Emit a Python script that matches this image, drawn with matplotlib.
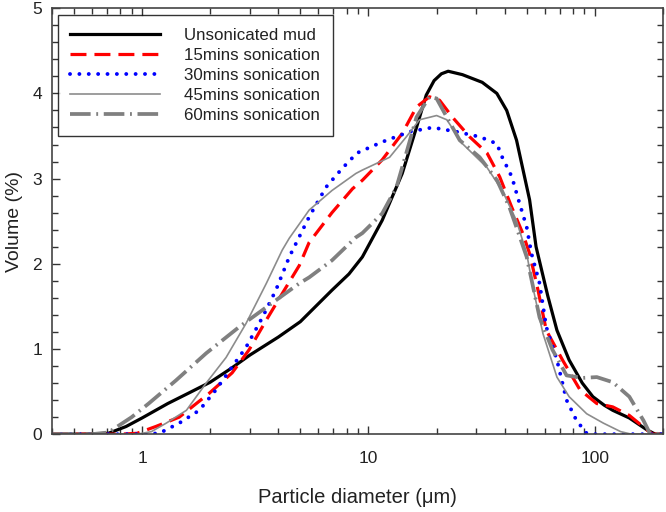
import matplotlib
matplotlib.use("Agg")
import matplotlib.pyplot as plt
from matplotlib.ticker import LogLocator, FixedLocator, MultipleLocator, NullFormatter, FuncFormatter

plt.rcParams['font.family'] = ['Liberation Sans', 'DejaVu Sans']

# ---- data (particle diameter in um, volume in %) ----
x_unson = [0.4, 0.55, 0.71, 0.85, 1.0, 1.3, 1.6, 2.0, 2.5, 3.0, 4.0, 5.0, 6.9, 8.2, 9.4, 11.5, 14.1, 16.3, 18.0, 19.5,
           21.0, 22.5, 26.0, 31.8, 36.9, 40.8, 45.1, 51.5, 55.0, 62.0, 68.0, 77.0, 88.0, 98.0, 110.0, 120.0, 142.0, 170.0, 185.0, 200.0]
y_unson = [0.0, 0.0, 0.01, 0.09, 0.19, 0.36, 0.48, 0.61, 0.78, 0.93, 1.14, 1.32, 1.69, 1.88, 2.08, 2.51, 3.06, 3.6, 3.98, 4.15,
           4.23, 4.26, 4.22, 4.13, 4.0, 3.8, 3.45, 2.75, 2.2, 1.62, 1.22, 0.87, 0.6, 0.44, 0.34, 0.28, 0.19, 0.05, 0.0, 0.0]

x_15 = [0.4, 0.8, 0.95, 1.15, 1.46, 1.98, 2.5, 2.97, 3.54, 4.16, 4.95, 5.47, 6.9, 8.5, 9.4, 11.5, 14.1, 16.3, 18.6, 20.6,
        23.5, 28.0, 33.4, 38.0, 43.0, 48.0, 51.5, 56.0, 61.0, 72.0, 86.0, 102.0, 120.0, 142.0, 170.0, 180.0, 200.0]
y_15 = [0.0, 0.0, 0.01, 0.09, 0.2, 0.48, 0.72, 0.99, 1.34, 1.65, 1.98, 2.25, 2.6, 2.88, 2.98, 3.22, 3.53, 3.84, 3.96, 3.92,
        3.72, 3.49, 3.3, 3.02, 2.66, 2.36, 2.12, 1.7, 1.22, 0.87, 0.52, 0.36, 0.32, 0.22, 0.05, 0.0, 0.0]

x_30 = [0.4, 1.0, 1.19, 1.46, 1.79, 2.12, 2.5, 2.88, 3.4, 3.9, 4.47, 5.47, 6.5, 7.66, 8.9, 11.5, 15.2, 19.2, 24.5, 31.0,
        36.9, 39.0, 43.0, 46.0, 50.0, 52.5, 57.0, 61.0, 68.0, 75.0, 83.0, 92.0, 100.0, 200.0]
y_30 = [0.0, 0.0, 0.01, 0.13, 0.28, 0.52, 0.79, 1.02, 1.37, 1.69, 2.08, 2.55, 2.9, 3.12, 3.3, 3.43, 3.55, 3.6, 3.55, 3.49,
        3.41, 3.25, 3.02, 2.75, 2.43, 2.12, 1.77, 1.26, 0.87, 0.4, 0.16, 0.01, 0.0, 0.0]

x_45 = [0.4, 0.95, 1.1, 1.28, 1.57, 1.92, 2.35, 2.88, 3.54, 4.16, 4.47, 5.47, 6.9, 8.8, 9.4, 12.4, 14.7, 16.8, 20.0, 22.2,
        26.0, 33.4, 39.0, 45.0, 50.0, 53.0, 59.0, 68.0, 77.0, 92.0, 109.0, 130.0, 145.0, 200.0]
y_45 = [0.0, 0.0, 0.03, 0.13, 0.28, 0.6, 0.9, 1.3, 1.77, 2.16, 2.3, 2.63, 2.86, 3.06, 3.1, 3.25, 3.49, 3.69, 3.74, 3.69,
        3.41, 3.13, 2.86, 2.51, 2.12, 1.75, 1.18, 0.67, 0.44, 0.24, 0.13, 0.03, 0.0, 0.0]

x_60 = [0.4, 0.6, 0.71, 0.9, 1.07, 1.41, 1.92, 2.69, 3.54, 4.95, 5.47, 6.9, 8.8, 9.4, 11.5, 13.3, 14.7, 16.3, 18.6, 20.0,
        22.2, 25.3, 31.0, 37.0, 42.0, 46.0, 50.0, 57.0, 65.0, 75.0, 88.0, 102.0, 120.0, 142.0, 164.0, 175.0, 200.0]
y_60 = [0.0, 0.0, 0.02, 0.2, 0.36, 0.63, 0.95, 1.26, 1.49, 1.77, 1.84, 2.04, 2.31, 2.36, 2.59, 2.9, 3.3, 3.72, 3.96, 3.94,
        3.72, 3.45, 3.25, 2.98, 2.66, 2.36, 2.08, 1.37, 0.99, 0.69, 0.66, 0.67, 0.61, 0.44, 0.16, 0.01, 0.0]

labels = ["Unsonicated mud", "15mins sonication", "30mins sonication", "45mins sonication", "60mins sonication"]
x_ticks = [1, 10, 100]
y_ticks = [0, 1, 2, 3, 4, 5]

fig = plt.figure(figsize=(6.66, 5.12), dpi=100)
ax = fig.add_axes([0.078, 0.152, 0.9175, 0.832])

ax.plot(x_unson, y_unson, color='black', lw=2.3, label=labels[0], solid_joinstyle='round')
ax.plot(x_15, y_15, color='#ff0000', lw=2.3, ls=(0, (5.0, 2.5)), label=labels[1])
ax.plot(x_30, y_30, color='#0000ff', lw=2.8, ls=(0, (0.01, 2.4)), dash_capstyle='round', label=labels[2])
ax.plot(x_45, y_45, color='#8c8c8c', lw=1.2, label=labels[3])
ax.plot(x_60, y_60, color='#808080', lw=2.7, ls=(0, (5.5, 1.5, 0.5, 1.5)), label=labels[4])

ax.set_xscale('log')
ax.set_xlim(0.4, 200)
ax.set_ylim(0, 5)
ax.xaxis.set_major_locator(FixedLocator(x_ticks))
ax.xaxis.set_major_formatter(FuncFormatter(lambda v, p: f"{v:g}"))
ax.xaxis.set_minor_locator(LogLocator(base=10, subs=[2, 3, 4, 5, 6, 7, 8, 9]))
ax.xaxis.set_minor_formatter(NullFormatter())
ax.yaxis.set_major_locator(FixedLocator(y_ticks))
ax.yaxis.set_minor_locator(MultipleLocator(0.2))

ax.tick_params(which='both', direction='in', top=True, right=True, colors='#333333', labelcolor='#222222', labelsize=12.5)
ax.tick_params(which='major', length=6, width=1)
ax.tick_params(which='minor', length=4, width=1)
ax.tick_params(axis='x', which='major', pad=12)
ax.tick_params(axis='y', which='major', pad=7)
ax.tick_params(axis='y', which='both', right=True, labelright=False)
ax.tick_params(axis='y', which='major', right=False)
for s in ax.spines.values():
    s.set_color('#444444')
    s.set_linewidth(1.2)

ax.set_xlabel("Particle diameter (\u03bcm)", fontsize=14.5, color='#222222', labelpad=16)
ax.set_ylabel("Volume (%)", fontsize=14, color='#222222', labelpad=7)

leg = ax.legend(loc='upper left', bbox_to_anchor=(0.004, 0.992), fontsize=12.2, frameon=True, fancybox=False,
                edgecolor='black', handlelength=5.3, handletextpad=1.4, borderpad=0.75, labelspacing=0.3,
                borderaxespad=0.2)
leg.get_frame().set_linewidth(1.0)
for t in leg.get_texts():
    t.set_color('#222222')

fig.savefig('out.png', dpi=100)
